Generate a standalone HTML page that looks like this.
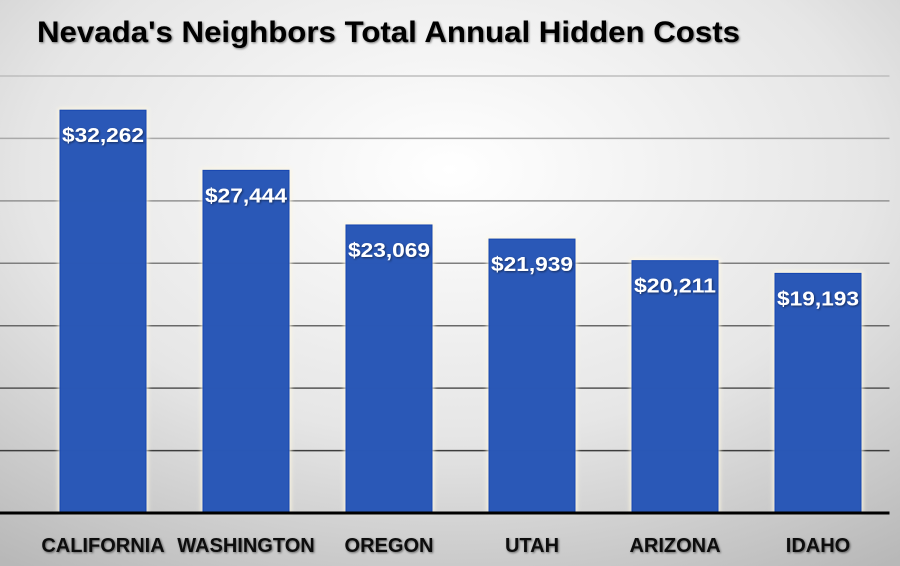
<!DOCTYPE html>
<html><head><meta charset="utf-8"><style>
html,body{margin:0;padding:0;width:900px;height:566px;overflow:hidden}
</style></head><body>
<svg id="chart" width="900" height="566" xmlns="http://www.w3.org/2000/svg" font-family="'Liberation Sans', sans-serif">
<defs>
<radialGradient id="bg" cx="0.5" cy="0.3" r="0.85">
<stop offset="0" stop-color="#ffffff"/><stop offset="0.55" stop-color="#e6e6e6"/><stop offset="1" stop-color="#b8b8b8"/>
</radialGradient>
<filter id="glow" x="-20%" y="-20%" width="140%" height="140%"><feGaussianBlur stdDeviation="2"/></filter>
<filter id="ts"><feDropShadow dx="1" dy="1" stdDeviation="1" flood-color="#000" flood-opacity="0.5"/></filter>
</defs>
<rect x="0" y="0" width="900" height="566" fill="url(#bg)"/>
<text x="37" y="42" font-size="30" font-weight="bold" fill="#000" textLength="703" lengthAdjust="spacingAndGlyphs" filter="url(#ts)">Nevada's Neighbors Total Annual Hidden Costs</text>
<g id="grid"></g>
<g id="bars"></g>
<g id="labels"></g>
</svg>
<script>
const categories = ["CALIFORNIA","WASHINGTON","OREGON","UTAH","ARIZONA","IDAHO"];
const values = [32262,27444,23069,21939,20211,19193];
const valueLabels = ["$32,262","$27,444","$23,069","$21,939","$20,211","$19,193"];
const yTicks = [0,5000,10000,15000,20000,25000,30000,35000];

const NS="http://www.w3.org/2000/svg";
const plotLeft=31.5, plotRight=889.5, baseY=513, topY=76, yMax=35000;
const slot=(plotRight-plotLeft)/categories.length, barW=86;
function y(v){return baseY-(v/yMax)*(baseY-topY);}
function xc(i){return plotLeft+slot*(i+0.5);}
function mk(tag,attrs,parent){const e=document.createElementNS(NS,tag);for(const k in attrs)e.setAttribute(k,attrs[k]);parent.appendChild(e);return e;}
const grid=document.getElementById('grid'),bars=document.getElementById('bars'),labels=document.getElementById('labels');
yTicks.forEach((t,i)=>{
  if(t===0)return;
  const f=t/yMax;
  const c=Math.round(40+150*f);
  const l=mk('line',{x1:0,x2:plotRight,y1:y(t),y2:y(t),stroke:`rgb(${c},${c},${c})`,'stroke-width':1.5},grid);
  
  
});
values.forEach((v,i)=>{
  const x=xc(i)-barW/2, top=y(v);
  const g=mk('rect',{x:x-2,y:top-2,width:barW+4,height:baseY-top+2,fill:'#fff8e0',opacity:0.9,filter:'url(#glow)'},bars);
  
  
  const r=mk('rect',{x:x,y:top,width:barW,height:baseY-top,fill:'#1f4fb4','fill-opacity':0.95,stroke:'#1646b0','stroke-width':1},bars);
  
  
  const t=mk('text',{x:xc(i),y:top+32,'text-anchor':'middle','font-size':20,'font-weight':'bold',fill:'#fff',textLength:82,lengthAdjust:'spacingAndGlyphs',filter:'url(#ts)'},labels);
  t.textContent=valueLabels[i];
  
  
  const c=mk('text',{x:xc(i),y:552,'text-anchor':'middle','font-size':20,'font-weight':'bold',fill:'#111',filter:'url(#ts)'},labels);
  c.textContent=categories[i];
  
  
});
const ax=mk('line',{x1:0,x2:plotRight,y1:baseY,y2:baseY,stroke:'#000','stroke-width':3},labels);


</script>
</body></html>
